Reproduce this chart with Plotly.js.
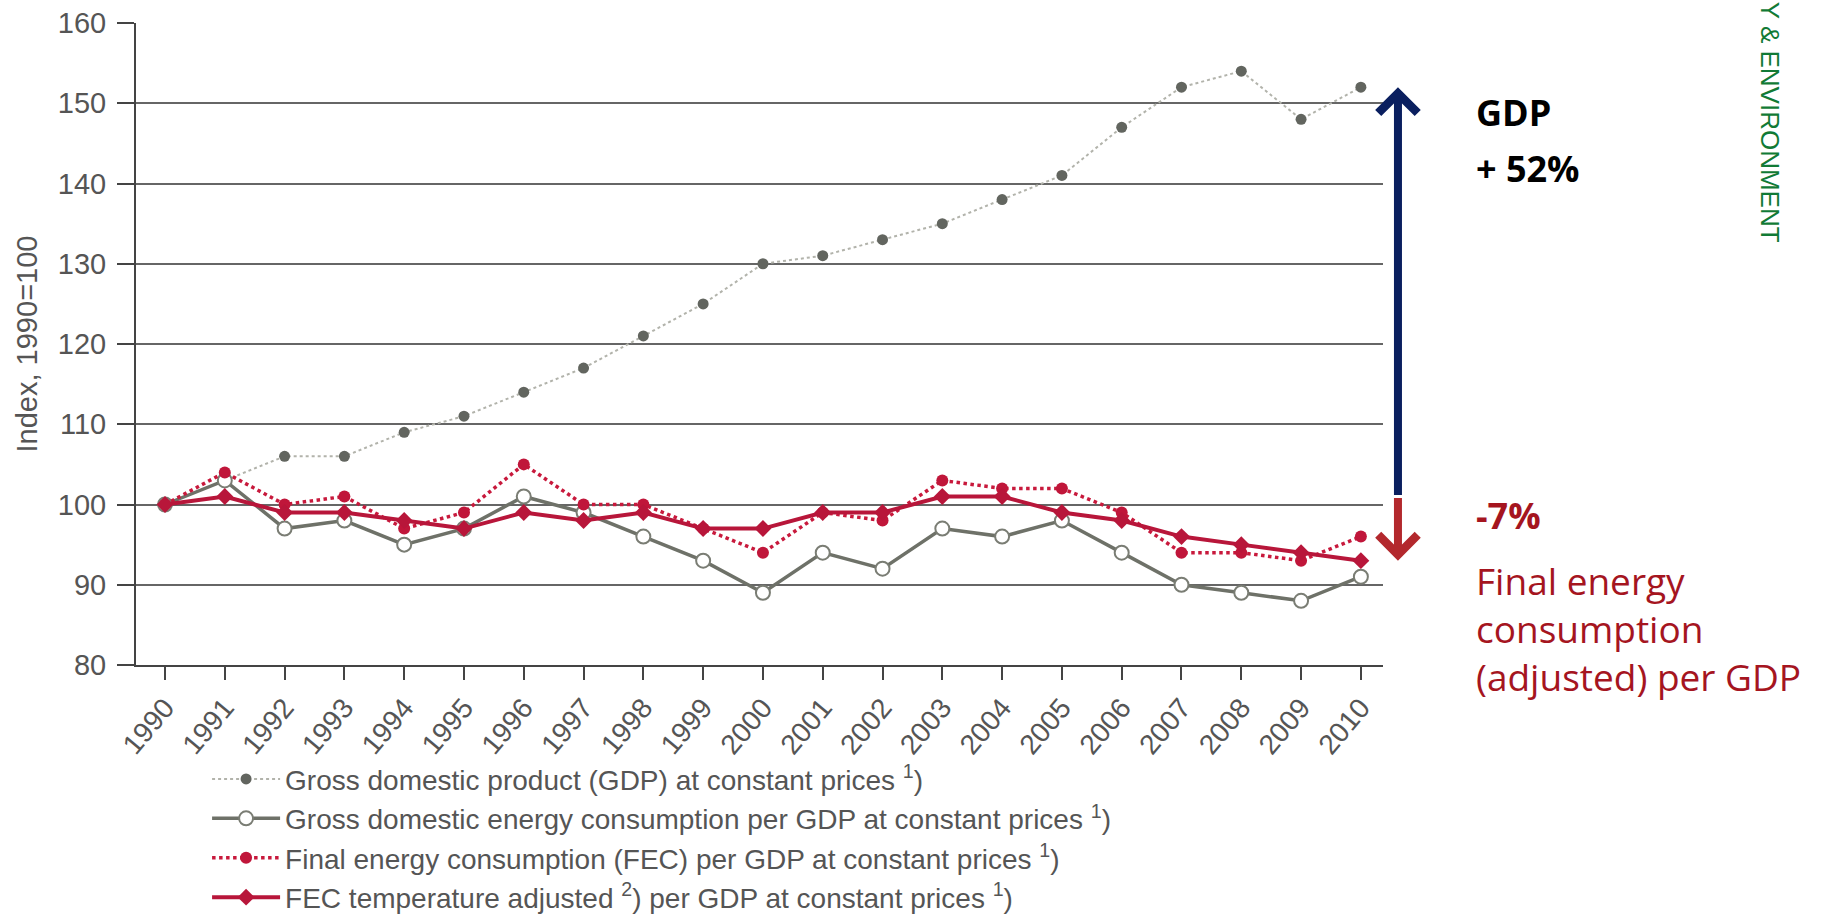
<!DOCTYPE html>
<html>
<head>
<meta charset="utf-8">
<script src="https://cdn.plot.ly/plotly-3.0.1.min.js"></script>
<style>
  html, body { margin: 0; padding: 0; background: #ffffff; }
  #chart { width: 1827px; height: 915px; }
</style>
</head>
<body>
<div id="chart"></div>
<script>
// ---- Data (index, 1990 = 100) ----
const years = [1990, 1991, 1992, 1993, 1994, 1995, 1996, 1997, 1998, 1999, 2000,
               2001, 2002, 2003, 2004, 2005, 2006, 2007, 2008, 2009, 2010];
const gdp = [100, 103, 106, 106, 109, 111, 114, 117, 121, 125, 130,
             131, 133, 135, 138, 141, 147, 152, 154, 148, 152];
const grossEnergyPerGdp = [100, 103, 97, 98, 95, 97, 101, 99, 96, 93, 89,
                           94, 92, 97, 96, 98, 94, 90, 89, 88, 91];
const fecPerGdp = [100, 104, 100, 101, 97, 99, 105, 100, 100, 97, 94,
                   99, 98, 103, 102, 102, 99, 94, 94, 93, 96];
const fecAdjPerGdp = [100, 101, 99, 99, 98, 97, 99, 98, 99, 97, 97,
                      99, 99, 101, 101, 99, 98, 96, 95, 94, 93];
const seriesNames = [
  'Gross domestic product (GDP) at constant prices <sup>1</sup>)',
  'Gross domestic energy consumption per GDP at constant prices <sup>1</sup>)',
  'Final energy consumption (FEC) per GDP at constant prices <sup>1</sup>)',
  'FEC temperature adjusted <sup>2</sup>) per GDP at constant prices <sup>1</sup>)'
];
const yTicks = [80, 90, 100, 110, 120, 130, 140, 150, 160];
const yTitle = 'Index, 1990=100';
const gdpLabel = ['GDP', '+ 52%'];
const fecLabel = ['-7%', 'Final energy<br>consumption<br>(adjusted) per GDP'];
const sideBanner = 'Y &amp; ENVIRONMENT';
const arrowBase = 101;

const last = years.length - 1;
const tickText = years.map(String);

const traces = [
  {
    x: years, y: gdp, name: seriesNames[0], type: 'scatter', mode: 'lines+markers',
    legendgroup: 'g1',
    line: { color: '#b2b3ab', width: 2, dash: 'dot' },
    marker: { color: '#62655f', size: 11, symbol: 'circle' }
  },
  {
    x: years, y: grossEnergyPerGdp, name: seriesNames[1], type: 'scatter', mode: 'lines+markers',
    legendgroup: 'g2',
    line: { color: '#6e7168', width: 3.5 },
    marker: { color: '#ffffff', size: 14, symbol: 'circle', line: { color: '#7a7d74', width: 2 } }
  },
  {
    x: years, y: fecPerGdp, name: seriesNames[2], type: 'scatter', mode: 'lines+markers',
    legendgroup: 'g3',
    line: { color: '#c8193c', width: 3.5, dash: 'dot' },
    marker: { color: '#c0163a', size: 12, symbol: 'circle' }
  },
  {
    x: years, y: fecAdjPerGdp, name: seriesNames[3], type: 'scatter', mode: 'lines+markers',
    legendgroup: 'g4',
    line: { color: '#b8163a', width: 4 },
    marker: { color: '#b8163a', size: 13, symbol: 'diamond' }
  }
];

const arrowX = 1.012;

const layout = {
  width: 1827,
  height: 915,
  margin: { l: 136, r: 444, t: 23, b: 250, autoexpand: false },
  paper_bgcolor: '#ffffff',
  plot_bgcolor: '#ffffff',
  font: { family: 'Liberation Sans, Arial, sans-serif', color: '#555555', size: 28 },
  showlegend: true,
  legend: {
    x: 0.057, y: -0.139, xanchor: 'left', yanchor: 'top',
    orientation: 'v',
    font: { family: 'Liberation Sans, Arial, sans-serif', size: 28, color: '#555555' },
    bgcolor: 'rgba(0,0,0,0)',
    tracegroupgap: 0,
    itemwidth: 68
  },
  xaxis: {
    range: [1989.515, 2010.37],
    tickmode: 'array',
    tickvals: years,
    ticktext: tickText,
    tickangle: -50,
    ticks: 'outside', ticklen: 13, tickwidth: 2, tickcolor: '#444444',
    showline: true, linecolor: '#444444', linewidth: 2,
    showgrid: false, zeroline: false,
    tickfont: { size: 28, color: '#555555' },
    fixedrange: true
  },
  yaxis: {
    range: [80, 160],
    tickmode: 'array',
    tickvals: yTicks,
    ticks: 'outside', ticklen: 17, tickwidth: 2, tickcolor: '#444444',
    ticklabelstandoff: 5,
    showline: true, linecolor: '#444444', linewidth: 2,
    showgrid: true, gridcolor: '#666666', gridwidth: 2,
    zeroline: false,
    tickfont: { size: 29, color: '#555555' },
    title: { text: yTitle, font: { size: 29, color: '#555555' }, standoff: 12 },
    fixedrange: true
  },
  annotations: [
    // GDP change arrow (navy, up)
    {
      xref: 'paper', x: arrowX, yref: 'y', y: gdp[last],
      axref: 'pixel', ax: 0, ayref: 'y', ay: arrowBase,
      text: '', showarrow: true,
      arrowhead: 4, arrowsize: 0.95, arrowwidth: 8, arrowcolor: '#0a1f5f',
      standoff: 0, startstandoff: 0
    },
    // FEC change arrow (red, down)
    {
      xref: 'paper', x: arrowX, yref: 'y', y: fecAdjPerGdp[last],
      axref: 'pixel', ax: 0, ayref: 'y', ay: arrowBase,
      text: '', showarrow: true,
      arrowhead: 4, arrowsize: 0.95, arrowwidth: 8, arrowcolor: '#b3282d',
      standoff: 0, startstandoff: 0
    },
    {
      xref: 'paper', x: 1.073, xanchor: 'left', yref: 'paper', y: 0.8606, yanchor: 'middle',
      text: '<b>' + gdpLabel[0] + '</b>', showarrow: false, align: 'left',
      font: { family: 'Open Sans, Lato, sans-serif', size: 36, color: '#000000' }
    },
    {
      xref: 'paper', x: 1.073, xanchor: 'left', yref: 'paper', y: 0.7734, yanchor: 'middle',
      text: '<b>' + gdpLabel[1] + '</b>', showarrow: false, align: 'left',
      font: { family: 'Open Sans, Lato, sans-serif', size: 36, color: '#000000' }
    },
    {
      xref: 'paper', x: 1.073, xanchor: 'left', yref: 'paper', y: 0.2321, yanchor: 'middle',
      text: '<b>' + fecLabel[0] + '</b>', showarrow: false, align: 'left',
      font: { family: 'Open Sans, Lato, sans-serif', size: 36, color: '#a5151f' }
    },
    {
      xref: 'paper', x: 1.073, xanchor: 'left', yref: 'paper', y: 0.0561, yanchor: 'middle',
      text: fecLabel[1], showarrow: false, align: 'left',
      font: { family: 'Open Sans, Lato, sans-serif', size: 37, color: '#a5151f' }
    },
    {
      xref: 'paper', x: 1.311, xanchor: 'center', yref: 'paper', y: 0.654, yanchor: 'bottom',
      text: sideBanner, textangle: 90, showarrow: false,
      font: { family: 'Liberation Sans, Arial, sans-serif', size: 26, color: '#117a35' }
    }
  ]
};

Plotly.newPlot('chart', traces, layout, { displayModeBar: false, staticPlot: true });
</script>
</body>
</html>
